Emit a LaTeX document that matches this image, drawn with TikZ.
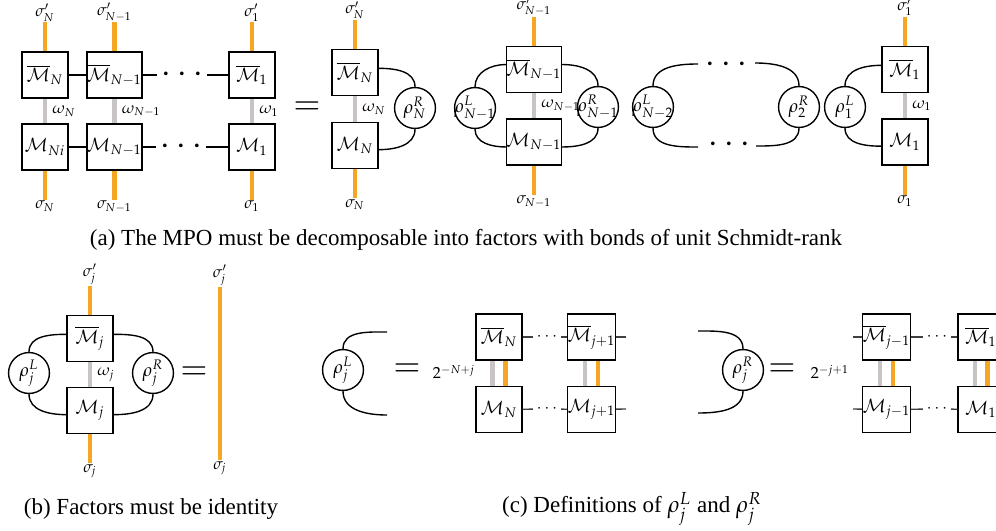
\documentclass[tikz,border=0pt]{standalone}
\usepackage{mathpazo}
\usepackage{fontspec}
\setmainfont{Liberation Serif}
\usetikzlibrary{positioning}
\definecolor{LegOrange}{RGB}{245,166,35}
\definecolor{BondGray} {RGB}{200,196,196}
\newcommand{\envtxt}[2]{\makebox[0pt]{$\rho^{#1}_{#2}$}}

\begin{document}
\begin{tikzpicture}[
  x=0.435pt, y=0.435pt,
  tensor/.style={draw, line width=0.6pt, fill=white,
    minimum size=20pt, inner sep=0pt, font=\footnotesize},
  env/.style={circle, draw, line width=0.6pt,
    minimum size=17.8pt, inner sep=0pt, font=\footnotesize},
  leg/.style={LegOrange, line width=1.8pt},
  virt/.style={BondGray, line width=1.8pt},
  bond/.style={line width=0.6pt},
  hbond/.style={black!75, line width=0.6pt},
  idx/.style={font=\scriptsize, text=black, inner sep=0.3pt},
  bigdots/.style={font=\Large, inner sep=1.5pt},
  smalldots/.style={font=\scriptsize, inner sep=1.5pt},
  eqsign/.style={font=\Large},
  norm/.style={font=\scriptsize},
  subcap/.style={font=\normalsize}
]
\useasboundingbox (0,0) rectangle (996,-531);
\clip (0,0) rectangle (996,-531);

% (a) full MPO sandwich
\foreach \i/\x/\n/\m in {1/45/N/Ni, 2/114.5/N-1/N-1, 3/252/1/1} {
  \node[tensor] (at\i) at (\x,-75) {$\overline{\mathcal{M}}_{\n}$};
  \node[tensor] (ab\i) at (\x,-147) {$\mathcal{M}_{\m}$};
  \node[idx, above=12.6pt of at\i] (ast\i) {$\sigma'_{\n}$};
  \node[idx, below=12.6pt of ab\i] (asb\i) {$\sigma_{\n}$};
  \draw[leg] (at\i) -- (ast\i);
  \draw[leg] (ab\i) -- (asb\i);
  \draw[virt] (at\i) -- node[idx, right=2pt] {$\omega_{\n}$} (ab\i);
}
\node[bigdots] (adt) at (182,-75) {$\cdots$};
\node[bigdots] (adb) at (181,-147) {$\cdots$};
\draw[bond] (at1) -- (at2) -- (adt) -- (at3);
\draw[bond] (ab1) -- (ab2) -- (adb) -- (ab3);

\node[eqsign] (eqa) at (307,-108) {$=$};

% (a) factorised form
\foreach \i/\x/\yt/\yb/\n in {1/355/72.5/145.5/N, 2/534/69.5/142/N-1, 3/905/69.5/142/1} {
  \node[tensor] (bt\i) at (\x,-\yt) {$\overline{\mathcal{M}}_{\n}$};
  \node[tensor] (bb\i) at (\x,-\yb) {$\mathcal{M}_{\n}$};
  \node[idx, above=12.6pt of bt\i] (bst\i) {$\sigma'_{\n}$};
  \node[idx, below=12.6pt of bb\i] (bsb\i) {$\sigma_{\n}$};
  \draw[leg] (bt\i) -- (bst\i);
  \draw[leg] (bb\i) -- (bsb\i);
  \draw[virt] (bt\i) -- node[idx, right=2pt] {$\omega_{\n}$} (bb\i);
}
\node[env] (rRN)  at (415,-108) {\envtxt{R}{N}};
\node[env] (rLN1) at (475,-108) {\envtxt{L}{N-1}};
\node[env] (rRN1) at (598,-107) {\envtxt{R}{N-1}};
\node[env] (rLN2) at (653,-107) {\envtxt{L}{N-2}};
\node[env] (rR2)  at (799,-107) {\envtxt{R}{2}};
\node[env] (rL1)  at (845,-107) {\envtxt{L}{1}};

\draw[bond] (bt1.10) to[out=0,in=90] (rRN.north);
\draw[bond] (bb1.-10) to[out=0,in=-90] (rRN.south);
\draw[bond] (rLN1.north) to[out=90,in=180] (bt2.170);
\draw[bond] (rLN1.south) to[out=-90,in=180] (bb2.-170);
\draw[bond] (bt2.10) to[out=0,in=90] (rRN1.north);
\draw[bond] (bb2.-10) to[out=0,in=-90] (rRN1.south);
\draw[bond] (rL1.north) to[out=90,in=180] (bt3.170);
\draw[bond] (rL1.south) to[out=-90,in=180] (bb3.-170);

% open ends around the dots
\coordinate (fLt) at (698,-64);
\coordinate (fLb) at (698,-147);
\coordinate (fRt) at (755,-63);
\coordinate (fRb) at (756,-146);
\node[bigdots] (bdt) at (726,-65) {$\cdots$};
\node[bigdots] (bdb) at (729,-145) {$\cdots$};
\draw[bond] (rLN2.north) to[out=90,in=180] (fLt);
\draw[bond] (rLN2.south) to[out=-90,in=180] (fLb);
\draw[bond] (fRt) to[out=0,in=90] (rR2.north);
\draw[bond] (fRb) to[out=0,in=-90] (rR2.south);

\node[subcap] (capa) at (466,-240)
  {(a) The MPO must be decomposable into factors with bonds of unit Schmidt-rank};

% (b) identity condition
\node[tensor] (jt) at (90,-338.5) {$\overline{\mathcal{M}}_j$};
\node[tensor] (jb) at (90,-410.5) {$\mathcal{M}_j$};
\node[idx, above=12.6pt of jt] (jst) {$\sigma'_j$};
\node[idx, below=12.6pt of jb] (jsb) {$\sigma_j$};
\draw[leg] (jt) -- (jst);
\draw[leg] (jb) -- (jsb);
\draw[virt] (jt) -- node[idx, right=2pt] {$\omega_j$} (jb);
\node[env] (rLj) at (29,-373) {\envtxt{L}{j}};
\node[env] (rRj) at (153,-373) {\envtxt{R}{j}};
\draw[bond] (rLj.north) to[out=90,in=180] (jt.170);
\draw[bond] (rLj.south) to[out=-90,in=180] (jb.-170);
\draw[bond] (jt.10) to[out=0,in=90] (rRj.north);
\draw[bond] (jb.-10) to[out=0,in=-90] (rRj.south);
\node[eqsign] (eqb) at (194,-373) {$=$};
\node[idx, anchor=south] (idt) at (220,-287) {$\sigma'_j$};
\node[idx, anchor=north] (idb) at (220,-460) {$\sigma_j$};
\draw[leg] (idt) -- (idb);

\node[subcap] (capb) at (151,-509) {(b) Factors must be identity};

% (c) left environment
\node[env] (cLj) at (343,-370) {\envtxt{L}{j}};
\coordinate (cLa) at (387,-332);
\coordinate (cLb) at (387,-415);
\draw[bond] (cLj.north) to[out=90,in=180] (cLa);
\draw[bond] (cLj.south) to[out=-90,in=180] (cLb);
\node[eqsign] (eqc) at (407,-370) {$=$};
\node[norm] (nrmL) at (454,-372) {$2^{-N+j}$};

% (c) right environment
\node[env] (cRj) at (743,-370) {\envtxt{R}{j}};
\coordinate (cRa) at (698,-331);
\coordinate (cRb) at (698,-413);
\draw[bond] (cRa) to[out=0,in=90] (cRj.north);
\draw[bond] (cRb) to[out=0,in=-90] (cRj.south);
\node[eqsign] (eqd) at (782,-370) {$=$};
\node[norm] (nrmR) at (830,-372) {$2^{-j+1}$};

\foreach \i/\x/\n in {1/499/N, 2/591.5/j+1, 3/886.5/j-1, 4/981/1} {
  \node[tensor] (ct\i) at (\x,-337) {$\overline{\mathcal{M}}_{\n}$};
  \node[tensor] (cb\i) at (\x,-409.5) {$\mathcal{M}_{\n}$};
  \draw[virt] ([xshift=-2.8pt]ct\i.south) -- ([xshift=-2.8pt]cb\i.north);
  \draw[leg] ([xshift=2.8pt]ct\i.south) -- ([xshift=2.8pt]cb\i.north);
}
\node[smalldots] (cdt1) at (547,-337) {$\cdots$};
\node[smalldots] (cdb1) at (547,-409) {$\cdots$};
\node[smalldots] (cdt2) at (937,-337) {$\cdots$};
\node[smalldots] (cdb2) at (937,-409) {$\cdots$};
\coordinate (cet1) at (626,-337);
\coordinate (ceb1) at (626,-409);
\coordinate (cet2) at (853,-337);
\coordinate (ceb2) at (853,-409);
\draw[hbond] (ct1) -- (cdt1) -- (ct2) -- (cet1);
\draw[hbond] (cb1) -- (cdb1) -- (cb2) -- (ceb1);
\draw[hbond] (cet2) -- (ct3) -- (cdt2) -- (ct4);
\draw[hbond] (ceb2) -- (cb3) -- (cdb2) -- (cb4);

\node[subcap] (capc) at (632,-509) {(c) Definitions of $\rho_j^L$ and $\rho_j^R$};
\end{tikzpicture}
\end{document}
